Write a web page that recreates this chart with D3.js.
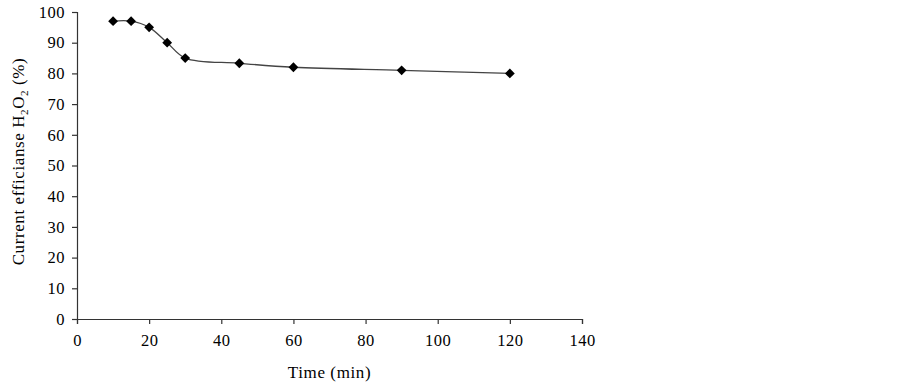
<!DOCTYPE html>
<html>
<head>
<meta charset="utf-8">
<script src="https://cdn.jsdelivr.net/npm/d3@7"></script>
<style>
  body { margin: 0; background: #fff; }
  text { font-family: "Liberation Serif", "Times New Roman", serif; fill: #000; }
</style>
</head>
<body>
<div id="chart"></div>
<script>
// data
const times = [10, 15, 20, 25, 30, 45, 60, 90, 120];
const efficiency = [97, 97, 95, 90, 85, 83.3, 82, 81, 80];
const xTicks = [0, 20, 40, 60, 80, 100, 120, 140];
const yTicks = [0, 10, 20, 30, 40, 50, 60, 70, 80, 90, 100];

const width = 902, height = 383;
const margin = { left: 77, right: 320, top: 12, bottom: 64 };

const svg = d3.select("#chart")
    .append("svg")
    .attr("width", width)
    .attr("height", height);

const x = d3.scaleLinear().domain([0, 140]).range([margin.left, width - margin.right]);
const y = d3.scaleLinear().domain([0, 100]).range([height - margin.bottom, margin.top]);

// x axis
const xAxis = svg.append("g")
    .attr("transform", `translate(0, ${y(0)})`)
    .call(d3.axisBottom(x).tickValues(xTicks).tickSizeOuter(0).tickSize(5).tickPadding(10));

// y axis
const yAxis = svg.append("g")
    .attr("transform", `translate(${x(0)}, 0)`)
    .call(d3.axisLeft(y).tickValues(yTicks).tickSizeOuter(0).tickSize(5).tickPadding(7));

[xAxis, yAxis].forEach(g => {
    g.selectAll("path, line").attr("stroke", "#333").attr("stroke-width", 1.2);
    g.selectAll("text")
        .style("font-size", "16.5px")
        .style("letter-spacing", "0.5px")
        .style("font-family", "'Liberation Serif', serif");
});

// axis titles
svg.append("text")
    .attr("x", x(70))
    .attr("y", 378)
    .attr("text-anchor", "middle")
    .style("font-size", "17px")
    .style("letter-spacing", "0.6px")
    .text("Time (min)");

const yTitle = svg.append("text")
    .attr("transform", `translate(24, ${y(50) - 4}) rotate(-90)`)
    .attr("text-anchor", "middle")
    .style("font-size", "17px")
    .style("letter-spacing", "0.6px");
yTitle.append("tspan").text("Current efficianse H");
yTitle.append("tspan").attr("dy", 4).style("font-size", "11px").text("2");
yTitle.append("tspan").attr("dy", -4).text("O");
yTitle.append("tspan").attr("dy", 4).style("font-size", "11px").text("2");
yTitle.append("tspan").attr("dy", -4).text(" (%)");

// series
const points = times.map((t, i) => ({ t, v: efficiency[i] }));

const line = d3.line()
    .x(d => x(d.t))
    .y(d => y(d.v))
    .curve(d3.curveCatmullRom.alpha(0.5));

svg.append("path")
    .datum(points)
    .attr("d", line)
    .attr("fill", "none")
    .attr("stroke", "#444")
    .attr("stroke-width", 1.3);

const diamond = d3.symbol().type(d3.symbolSquare).size(48);

svg.selectAll(".marker")
    .data(points)
    .enter()
    .append("path")
    .attr("class", "marker")
    .attr("d", diamond)
    .attr("transform", d => `translate(${x(d.t)}, ${y(d.v)}) rotate(45)`)
    .attr("fill", "#000");
</script>
</body>
</html>
